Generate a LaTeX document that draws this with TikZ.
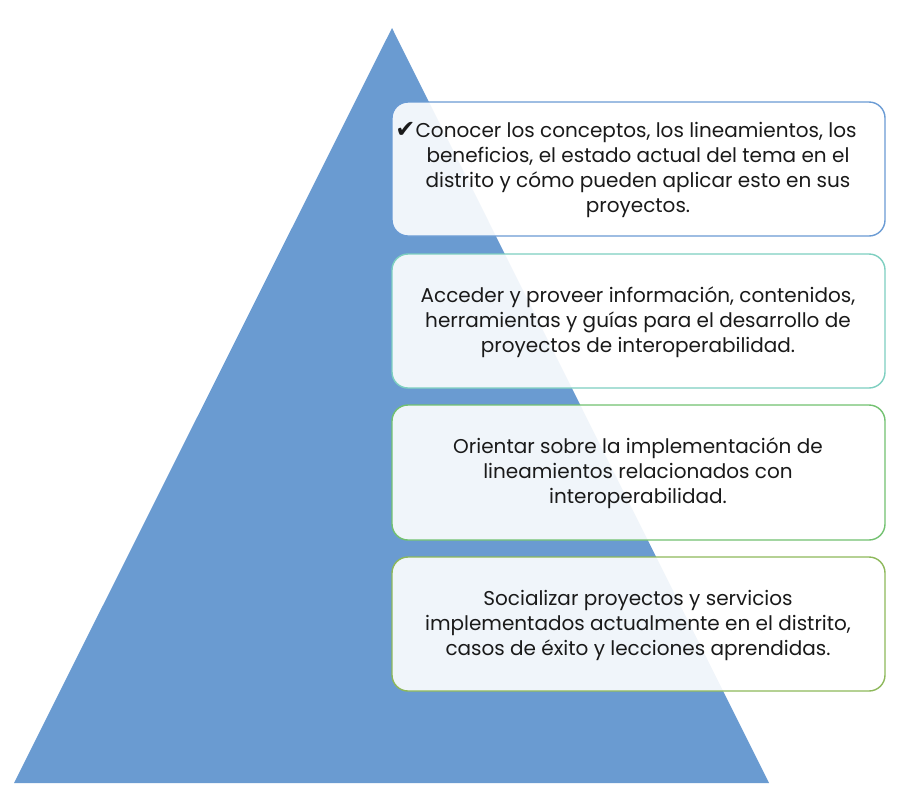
\documentclass[tikz,border=0pt]{standalone}
\usepackage{fontspec}
\setmainfont{Poppins}
\newfontfamily\chkfont{DejaVu Sans}
\definecolor{tri}{HTML}{6A9BD1}
\definecolor{bA}{HTML}{6A9BD4}
\definecolor{bB}{HTML}{7DCFC0}
\definecolor{bC}{HTML}{72C170}
\definecolor{bD}{HTML}{8DB85A}
\definecolor{txt}{HTML}{1A1A1A}
\begin{document}
\begin{tikzpicture}[x=1pt,y=-1pt,
  card/.style={draw=#1,line width=1.4pt,fill=white,fill opacity=0.9,rounded corners=16pt},
  cardtext/.style={align=center,text=txt,font=\fontsize{20}{25}\selectfont,text opacity=1}]
\useasboundingbox (0,0) rectangle (910,796);
\fill[tri] (392,28) -- (769,783) -- (14,783) -- cycle;
\draw[card=bA] (392,102) rectangle (885,236);
\draw[card=bB] (392,254) rectangle (885,388);
\draw[card=bC] (392,405) rectangle (885,540);
\draw[card=bD] (392,557) rectangle (885,691);
\node[cardtext] (t1) at (638,170) {{\chkfont\fontsize{24}{25}\selectfont ✔}Conocer los conceptos, los lineamientos, los\hspace*{24pt}\\beneficios, el estado actual del tema en el\\distrito y cómo pueden aplicar esto en sus\\proyectos.};
\node[cardtext] (t2) at (638,322) {Acceder y proveer información, contenidos,\\herramientas y guías para el desarrollo de\\proyectos de interoperabilidad.};
\node[cardtext] (t3) at (638,473) {Orientar sobre la implementación de\\lineamientos relacionados con\\interoperabilidad.};
\node[cardtext] (t4) at (638,625) {Socializar proyectos y servicios\\implementados actualmente en el distrito,\\casos de éxito y lecciones aprendidas.};
\end{tikzpicture}
\end{document}
